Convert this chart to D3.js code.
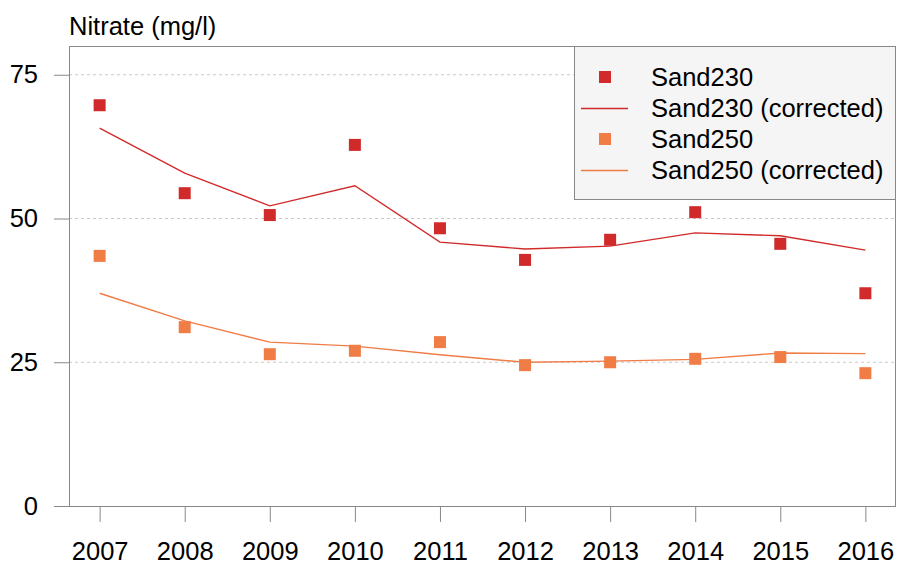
<!DOCTYPE html>
<html>
<head>
<meta charset="utf-8">
<script src="https://cdn.jsdelivr.net/npm/d3@7"></script>
<style>
  body { margin: 0; background: #fff; }
  text { font-family: "Liberation Sans", Arial, sans-serif; fill: #000; }
</style>
</head>
<body>
<div id="chart"></div>
<script>
// Nitrate concentrations, measured vs corrected, two sites.
const YEARS = [2007, 2008, 2009, 2010, 2011, 2012, 2013, 2014, 2015, 2016];
const SAND230 = [69.7, 54.4, 50.6, 62.8, 48.3, 42.8, 46.3, 51.1, 45.6, 37.0];
const SAND230_CORRECTED = [65.7, 57.9, 52.2, 55.7, 45.9, 44.7, 45.2, 47.5, 47.0, 44.5];
const SAND250 = [43.5, 31.1, 26.4, 27.0, 28.5, 24.5, 25.0, 25.6, 25.9, 23.1];
const SAND250_CORRECTED = [37.0, 32.2, 28.5, 27.8, 26.3, 25.0, 25.2, 25.5, 26.6, 26.5];
const Y_TICKS = [0, 25, 50, 75];

const RED = "#d12a2a";
const ORANGE = "#f07c46";
const FONT_SIZE = "25.5px";

const width = 897;
const height = 563;
const margin = { top: 46, right: 1, bottom: 57, left: 69 };

const x = d3.scaleLinear()
  .domain([2006.64, 2016.36])
  .range([margin.left, width - margin.right]);
const y = d3.scaleLinear()
  .domain([0, 80])
  .range([height - margin.bottom, margin.top]);

const svg = d3.select("#chart").append("svg")
  .attr("width", width)
  .attr("height", height);

// grid
svg.append("g").selectAll("line")
  .data(Y_TICKS.filter((t) => t > 0))
  .join("line")
  .attr("x1", margin.left).attr("x2", width - margin.right)
  .attr("y1", (d) => y(d)).attr("y2", (d) => y(d))
  .attr("stroke", "#c8c8c8")
  .attr("stroke-dasharray", "3,3");

// frame
svg.append("rect")
  .attr("x", margin.left + 0.5).attr("y", margin.top + 0.5)
  .attr("width", width - margin.right - margin.left - 1)
  .attr("height", height - margin.bottom - margin.top)
  .attr("fill", "none")
  .attr("stroke", "#888");

// axes
const yAxis = svg.append("g")
  .attr("transform", `translate(${margin.left},0)`)
  .call(d3.axisLeft(y).tickValues(Y_TICKS).tickSize(15).tickPadding(16));
const xAxis = svg.append("g")
  .attr("transform", `translate(0,${height - margin.bottom})`)
  .call(d3.axisBottom(x).tickValues(YEARS).tickFormat(d3.format("d")).tickSize(16).tickPadding(20));
for (const g of [yAxis, xAxis]) {
  g.select(".domain").remove();
  g.selectAll("line").attr("stroke", "#888");
  g.selectAll("text")
    .style("font-family", '"Liberation Sans", Arial, sans-serif')
    .style("font-size", FONT_SIZE)
    .attr("fill", "#000");
}
// extend the bottom axis line to the left under the 0 tick
svg.append("line")
  .attr("x1", margin.left - 15).attr("x2", width - margin.right)
  .attr("y1", y(0) + 0.5).attr("y2", y(0) + 0.5)
  .attr("stroke", "#888");

svg.append("text")
  .attr("x", margin.left)
  .attr("y", 35)
  .style("font-size", FONT_SIZE)
  .text("Nitrate (mg/l)");

// series
const line = d3.line()
  .x((d, i) => x(YEARS[i]))
  .y((d) => y(d));

function drawLine(values, color) {
  svg.append("path")
    .datum(values)
    .attr("d", line)
    .attr("fill", "none")
    .attr("stroke", color)
    .attr("stroke-width", 1.4);
}

function drawPoints(values, color) {
  const s = 12;
  svg.append("g").selectAll("rect")
    .data(values)
    .join("rect")
    .attr("x", (d, i) => x(YEARS[i]) - s / 2)
    .attr("y", (d) => y(d) - s / 2)
    .attr("width", s).attr("height", s)
    .attr("fill", color);
}

drawLine(SAND230_CORRECTED, RED);
drawLine(SAND250_CORRECTED, ORANGE);
drawPoints(SAND230, RED);
drawPoints(SAND250, ORANGE);

// legend
const LEGEND = [
  { label: "Sand230", color: RED, type: "point" },
  { label: "Sand230 (corrected)", color: RED, type: "line" },
  { label: "Sand250", color: ORANGE, type: "point" },
  { label: "Sand250 (corrected)", color: ORANGE, type: "line" },
];
const lg = svg.append("g");
lg.append("rect")
  .attr("x", 574.5).attr("y", margin.top + 0.5)
  .attr("width", width - margin.right - 575).attr("height", 153)
  .attr("fill", "#f5f5f5")
  .attr("stroke", "#888");
LEGEND.forEach((item, i) => {
  const cy = 77 + i * 31;
  if (item.type === "point") {
    lg.append("rect")
      .attr("x", 599).attr("y", cy - 6)
      .attr("width", 12).attr("height", 12)
      .attr("fill", item.color);
  } else {
    lg.append("line")
      .attr("x1", 581).attr("x2", 628)
      .attr("y1", cy + 0.5).attr("y2", cy + 0.5)
      .attr("stroke", item.color)
      .attr("stroke-width", 1.4);
  }
  lg.append("text")
    .attr("x", 651).attr("y", cy + 9)
    .style("font-size", FONT_SIZE)
    .text(item.label);
});
</script>
</body>
</html>
